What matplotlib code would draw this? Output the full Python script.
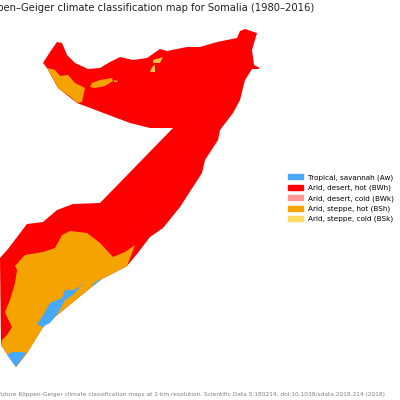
import matplotlib
matplotlib.use("Agg")
import matplotlib.pyplot as plt
from matplotlib.patches import Patch

# region outlines in image pixels (x, y down)
country = [(43,63),(50,52),(57,42),(62,43),(67,55),(75,63),(88,69),(100,68),(110,62),(120,57),(133,60),(147,58),
           (160,49),(167,51),(187,47),(200,47),(217,42),(237,38),(240,31),(245,29),(257,33),(252,50),(254,65),
           (260,68),(258,69),(252,69),(245,80),(240,100),(233,113),(220,130),(218,140),(205,160),(202,173),
           (180,207),(163,228),(150,237),(137,254),(127,266),(100,280),(67,307),(43,327),(27,353),(16,367),
           (1,345),(0,258),(8,249),(27,224),(43,222),(57,210),(73,204),(100,203),(173,128),(150,128),(130,123),
           (77,103),(58,88),(47,68)]
bsh_south = [(1,345),(2,340),(7,335),(12,327),(7,317),(5,312),(10,300),(15,283),(17,270),(15,266),(22,258),
             (25,255),(43,252),(55,248),(62,235),(70,231),(87,233),(100,243),(113,257),(125,252),(135,245),
             (132,253),(127,266),(100,280),(67,307),(43,327),(27,353),(16,367)]
bsh_nw = [(47,68),(55,70),(60,76),(68,75),(75,83),(85,88),(82,102),(77,103),(72,98),(58,88),(55,82)]
bsh_north = [(90,87),(92,83),(100,80),(112,78),(113,81),(105,86),(95,88)]
bsh_spot = [(114,80),(118,81),(117,82),(114,82)]
bsk_north = [(153,60),(163,57),(160,63),(153,63)]
bsk_spot = [(152,67),(155,65),(155,72),(150,72)]
aw_south = [(7,355),(12,352),(22,352),(26,353),(16,367)]
aw_lake = [(83,282),(78,288),(72,290),(65,290),(62,298),(50,303),(42,317),(37,324),(42,327),(50,323),(58,313),
           (65,300),(73,295),(80,287)]
aw_coast = [(100,279),(92,285),(93,286),(101,280)]

legend_labels = ["Tropical, savannah (Aw)", "Arid, desert, hot (BWh)", "Arid, desert, cold (BWk)",
                 "Arid, steppe, hot (BSh)", "Arid, steppe, cold (BSk)"]
legend_colors = ["#46a9fa", "#fe0000", "#ff9695", "#f5a301", "#ffdb63"]
bsk_patch_color = "#fbbf3c"  # the small patches look blended with BSh

title = "Köppen–Geiger climate classification map for Somalia (1980–2016)"
source = "Data source: Beck et al.: Present and future Köppen-Geiger climate classification maps at 1-km resolution, Scientific Data 5:180214, doi:10.1038/sdata.2018.214 (2018)"

fig = plt.figure(figsize=(4, 4), dpi=100)
ax = fig.add_axes([0, 0, 1, 1])
ax.set_xlim(0, 400)
ax.set_ylim(400, 0)
ax.axis("off")

for poly, col in [(country, legend_colors[1]), (bsh_south, legend_colors[3]), (bsh_nw, legend_colors[3]),
                  (bsh_north, legend_colors[3]), (bsh_spot, legend_colors[3]), (bsk_north, bsk_patch_color),
                  (bsk_spot, bsk_patch_color), (aw_south, legend_colors[0]), (aw_lake, legend_colors[0]),
                  (aw_coast, legend_colors[0])]:
    ax.fill(*zip(*poly), color=col, lw=0)

ax.text(314, 8, title, ha="right", va="center", fontsize=7.2, color="#222222", clip_on=False)
ax.text(385, 394.5, source, ha="right", va="center", fontsize=4.25, color="#808080", clip_on=False)

handles = [Patch(color=c, label=l) for c, l in zip(legend_colors, legend_labels)]
ax.legend(handles=handles, loc="center left", bbox_to_anchor=(0.72, 0.504), frameon=False, fontsize=5.2,
          labelspacing=0.53, handlelength=2.05, handleheight=0.7, handletextpad=0.7, borderpad=0, borderaxespad=0)

fig.savefig("out.png", dpi=100)
